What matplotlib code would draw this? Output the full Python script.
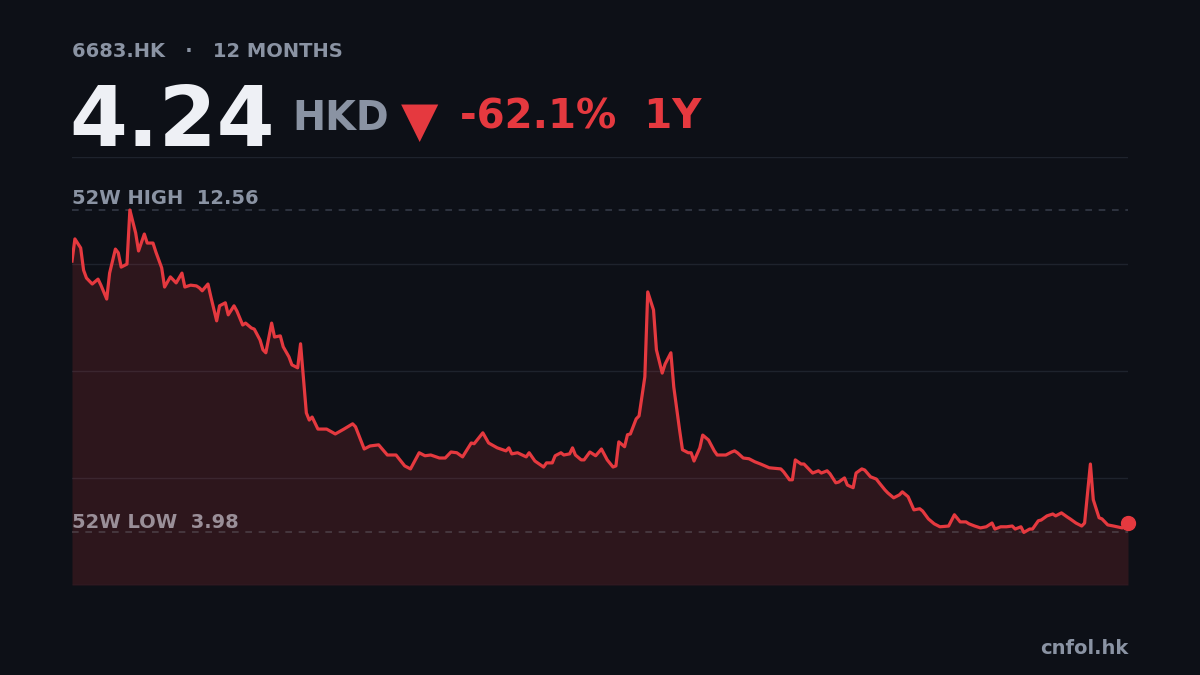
import matplotlib
matplotlib.use("Agg")
import matplotlib.pyplot as plt

# day offsets over the 12 month window and closing prices (HKD)
days = [0, 1, 3, 4, 5, 7, 9, 10, 12, 13, 15, 16, 17, 19, 20, 22, 23, 25, 26, 28,
        29, 31, 32, 34, 35, 36, 38, 39, 41, 43, 44, 45, 47, 48, 50, 51, 53, 54, 56, 57,
        59, 60, 62, 63, 65, 66, 67, 69, 70, 72, 73, 75, 76, 78, 79, 81, 82, 83, 85, 88,
        91, 94, 97, 98, 101, 103, 106, 109, 112, 115, 117, 120, 122, 124, 127, 129, 131, 133, 135, 138,
        139, 142, 144, 147, 150, 151, 152, 154, 157, 158, 160, 163, 164, 166, 167, 169, 170, 172, 173, 174,
        176, 177, 179, 181, 183, 185, 187, 188, 189, 191, 192, 193, 195, 196, 198, 199, 201, 202, 204, 205,
        207, 208, 210, 211, 213, 214, 215, 217, 218, 220, 222, 223, 226, 228, 229, 230, 232, 234, 236, 238,
        241, 245, 246, 248, 249, 250, 252, 253, 254, 256, 258, 259, 261, 262, 264, 265, 267, 268, 270, 271,
        273, 274, 276, 278, 279, 281, 282, 284, 286, 287, 289, 291, 293, 294, 296, 298, 300, 303, 305, 307,
        309, 310, 312, 314, 316, 318, 319, 321, 323, 325, 326, 328, 329, 331, 332, 334, 335, 337, 339, 340,
        342, 344, 345, 347, 349, 350, 352, 353, 355, 356, 358, 360, 363, 365]
prices = [11.20, 11.79, 11.55, 10.96, 10.75, 10.59, 10.72, 10.56, 10.19, 10.88, 11.52, 11.42, 11.04, 11.12, 12.56, 11.95, 11.47, 11.92, 11.68, 11.68,
          11.44, 11.02, 10.51, 10.78, 10.70, 10.62, 10.88, 10.51, 10.56, 10.54, 10.49, 10.41, 10.59, 10.25, 9.61, 10.01, 10.09, 9.77, 10.01, 9.87,
          9.50, 9.55, 9.42, 9.39, 9.10, 8.84, 8.76, 9.55, 9.18, 9.21, 8.92, 8.65, 8.44, 8.36, 9.00, 7.16, 6.97, 7.05, 6.73, 6.73,
          6.60, 6.73, 6.87, 6.79, 6.20, 6.28, 6.31, 6.04, 6.04, 5.75, 5.67, 6.10, 6.02, 6.04, 5.96, 5.96, 6.12, 6.10, 5.99, 6.36,
          6.34, 6.63, 6.36, 6.23, 6.15, 6.23, 6.07, 6.10, 5.99, 6.10, 5.88, 5.72, 5.83, 5.83, 6.02, 6.10, 6.04, 6.07, 6.23, 6.04,
          5.91, 5.91, 6.12, 6.02, 6.20, 5.91, 5.72, 5.75, 6.39, 6.26, 6.58, 6.60, 7.00, 7.08, 8.12, 10.38, 9.90, 8.84, 8.22, 8.46,
          8.76, 7.85, 6.71, 6.18, 6.10, 6.10, 5.88, 6.23, 6.57, 6.44, 6.15, 6.04, 6.04, 6.12, 6.15, 6.10, 5.96, 5.94, 5.86, 5.80,
          5.70, 5.67, 5.59, 5.38, 5.38, 5.91, 5.80, 5.80, 5.72, 5.56, 5.62, 5.56, 5.62, 5.54, 5.30, 5.32, 5.43, 5.24, 5.17, 5.56,
          5.67, 5.64, 5.46, 5.40, 5.30, 5.11, 5.03, 4.90, 4.98, 5.06, 4.93, 4.58, 4.61, 4.55, 4.34, 4.21, 4.13, 4.15, 4.45, 4.26,
          4.26, 4.21, 4.15, 4.10, 4.13, 4.23, 4.07, 4.13, 4.13, 4.15, 4.07, 4.13, 3.98, 4.07, 4.07, 4.29, 4.31, 4.42, 4.47, 4.42,
          4.50, 4.39, 4.34, 4.23, 4.15, 4.23, 5.80, 4.85, 4.37, 4.34, 4.18, 4.15, 4.10, 4.24]

high_52w = 12.56
low_52w = 3.98
last = 4.24
ticker = "6683.HK"
change = "-62.1%"

bg = "#0d1017"
red = "#e5393f"
grey = "#8a93a3"

fig = plt.figure(figsize=(12, 6.75), dpi=100, facecolor=bg)
ax = fig.add_axes([0.06, 0.1333, 0.88, 0.6341])
ax.set_facecolor(bg)

ymin, ymax = 2.58, 13.97
ax.set_xlim(days[0], days[-1])
ax.set_ylim(ymin, ymax)

# horizontal grid at quarters
for i in range(5):
    ax.axhline(ymin + (ymax - ymin) * i / 4, color="#1e232d", lw=1, zorder=1)

ax.fill_between(days, prices, ymin, color=red, alpha=0.15, lw=0, zorder=2)
ax.plot(days, prices, color=red, lw=2.3, solid_joinstyle="round", zorder=4)
ax.plot(days[-1], prices[-1], "o", color=red, ms=10, zorder=5, clip_on=False)

ax.axhline(high_52w, color="#343a46", lw=1.2, ls=(0, (4, 4)), zorder=3)
ax.axhline(low_52w, color="#4a3d44", lw=1.2, ls=(0, (4, 4)), zorder=3)

for s in ax.spines.values():
    s.set_visible(False)
ax.set_xticks([])
ax.set_yticks([])

fig.text(0.06, 0.9156, ticker + "   ·   12 MONTHS", color=grey, fontsize=14,
         fontweight="bold", va="baseline")
fig.text(0.058, 0.783, "%.2f" % last, color="#eef0f5", fontsize=60,
         fontweight="bold", va="baseline")
fig.text(0.244, 0.807, "HKD", color=grey, fontsize=28.5, fontweight="bold", va="baseline")
fig.text(0.334, 0.799, "▼", color=red, fontsize=35, va="baseline")
fig.text(0.383, 0.809, change + "  1Y", color=red, fontsize=29,
         fontweight="bold", va="baseline")

fig.text(0.06, 0.698, "52W HIGH  %.2f" % high_52w, color=grey, fontsize=14,
         fontweight="bold", va="baseline")
fig.text(0.06, 0.2185, "52W LOW  %.2f" % low_52w, color="#9a8f98", fontsize=14,
         fontweight="bold", va="baseline")

fig.text(0.94, 0.031, "cnfol.hk", color=grey, fontsize=14, fontweight="bold",
         ha="right", va="baseline")

fig.savefig("out.png", dpi=100, facecolor=bg)
